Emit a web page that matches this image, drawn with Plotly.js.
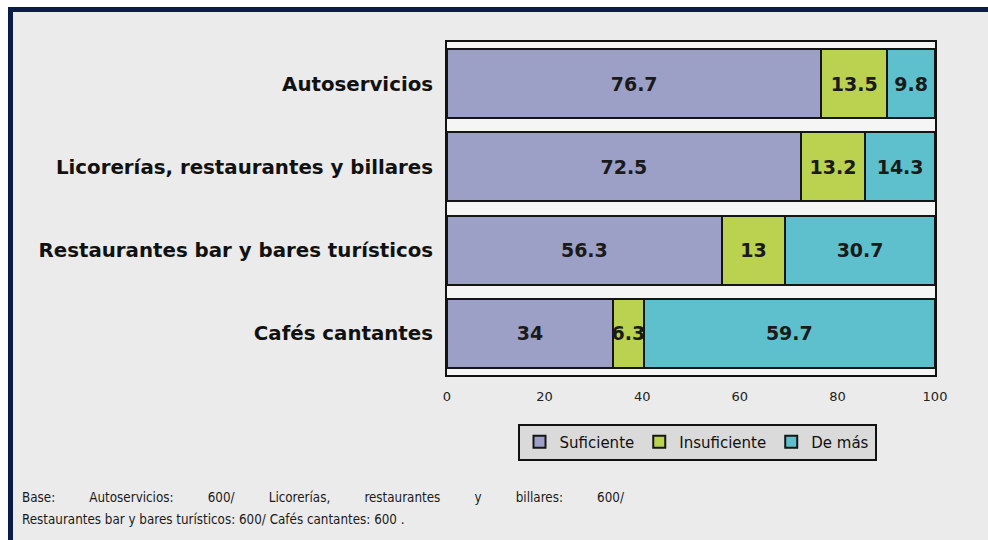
<!DOCTYPE html>
<html><head><meta charset="utf-8">
<script src="https://cdn.plot.ly/plotly-3.0.1.min.js"></script>
<style>html,body{margin:0;padding:0;background:#fff;}#chart{width:988px;height:540px;}</style>
</head><body><div id="chart"></div>
<script>
const categories = ["Autoservicios", "Licorerías, restaurantes y billares", "Restaurantes bar y bares turísticos", "Cafés cantantes"];
const seriesNames = ["Suficiente", "Insuficiente", "De más"];
const suficiente = [76.7, 72.5, 56.3, 34];
const insuficiente = [13.5, 13.2, 13, 6.3];
const deMas = [9.8, 14.3, 30.7, 59.7];
const xTicks = [0, 20, 40, 60, 80, 100];
const footLine1 = "Base:         Autoservicios:         600/         Licorerías,         restaurantes         y         billares:         600/";
const footLine2 = "Restaurantes bar y bares turísticos: 600/ Cafés cantantes: 600 .";

const colors = ["#9c9fc6", "#bbd150", "#5ec0cd"];
const values = [suficiente, insuficiente, deMas];

const L = 447, R = 935, T = 42, B = 375, W = 988, H = 540;
const px = x => (x - L) / (R - L);
const py = y => (B - y) / (B - T);

const traces = values.map((v, i) => ({
  type: "bar", orientation: "h",
  name: seriesNames[i],
  y: categories, x: v,
  text: v.map(String),
  textposition: "inside", insidetextanchor: "middle", textangle: 0,
  constraintext: "none",
  textfont: {family: "DejaVu Sans", size: 19, color: "#1a1a1a", weight: "bold"},
  marker: {color: colors[i], line: {color: "#151515", width: 2}},
  hoverinfo: "skip"
}));

const navy = "#0b1c48";
const footFont = {family: "DejaVu Sans Condensed", size: 13.3, color: "#1a1a1a"};
const layout = {
  width: W, height: H,
  margin: {l: L, r: W - R, t: T, b: H - B, pad: 0},
  paper_bgcolor: "#ebebeb",
  plot_bgcolor: "#f5f5f5",
  barmode: "stack", bargap: 0.17,
  showlegend: true,
  legend: {
    orientation: "h", traceorder: "normal",
    x: px(697), y: py(442), xanchor: "center", yanchor: "middle",
    bgcolor: "#dadada", bordercolor: "#111", borderwidth: 2,
    font: {family: "DejaVu Sans", size: 15, color: "#111"},
    itemwidth: 30, tracegroupgap: 0
  },
  xaxis: {
    range: [0, 100], tickvals: xTicks, ticktext: xTicks.map(String),
    showgrid: false, zeroline: false,
    showline: true, linecolor: "#111", linewidth: 2, mirror: true,
    ticks: "outside", ticklen: 8, tickcolor: "rgba(0,0,0,0)",
    tickfont: {family: "DejaVu Sans", size: 13, color: "#222"},
    fixedrange: true
  },
  yaxis: {
    categoryorder: "array", categoryarray: categories, autorange: "reversed",
    showgrid: false, zeroline: false,
    showline: true, linecolor: "#111", linewidth: 2, mirror: true,
    ticks: "outside", ticklen: 8, tickcolor: "rgba(0,0,0,0)",
    tickfont: {family: "DejaVu Sans", size: 19.8, color: "#111", weight: "bold"},
    fixedrange: true
  },
  shapes: [
    {type: "rect", xref: "paper", yref: "paper", x0: px(0), x1: px(W), y0: py(0), y1: py(7), fillcolor: "#ffffff", line: {width: 0}, layer: "above"},
    {type: "rect", xref: "paper", yref: "paper", x0: px(0), x1: px(8), y0: py(0), y1: py(H), fillcolor: "#ffffff", line: {width: 0}, layer: "above"},
    {type: "rect", xref: "paper", yref: "paper", x0: px(8), x1: px(W), y0: py(7), y1: py(12), fillcolor: navy, line: {width: 0}, layer: "above"},
    {type: "rect", xref: "paper", yref: "paper", x0: px(8), x1: px(13), y0: py(7), y1: py(H), fillcolor: navy, line: {width: 0}, layer: "above"}
  ],
  annotations: [
    {xref: "paper", yref: "paper", x: px(20), y: py(497), xanchor: "left", yanchor: "middle", showarrow: false,
     text: footLine1, font: footFont},
    {xref: "paper", yref: "paper", x: px(20), y: py(519), xanchor: "left", yanchor: "middle", showarrow: false,
     text: footLine2, font: footFont}
  ]
};

Plotly.newPlot("chart", traces, layout, {staticPlot: true, displayModeBar: false});
</script></body></html>
